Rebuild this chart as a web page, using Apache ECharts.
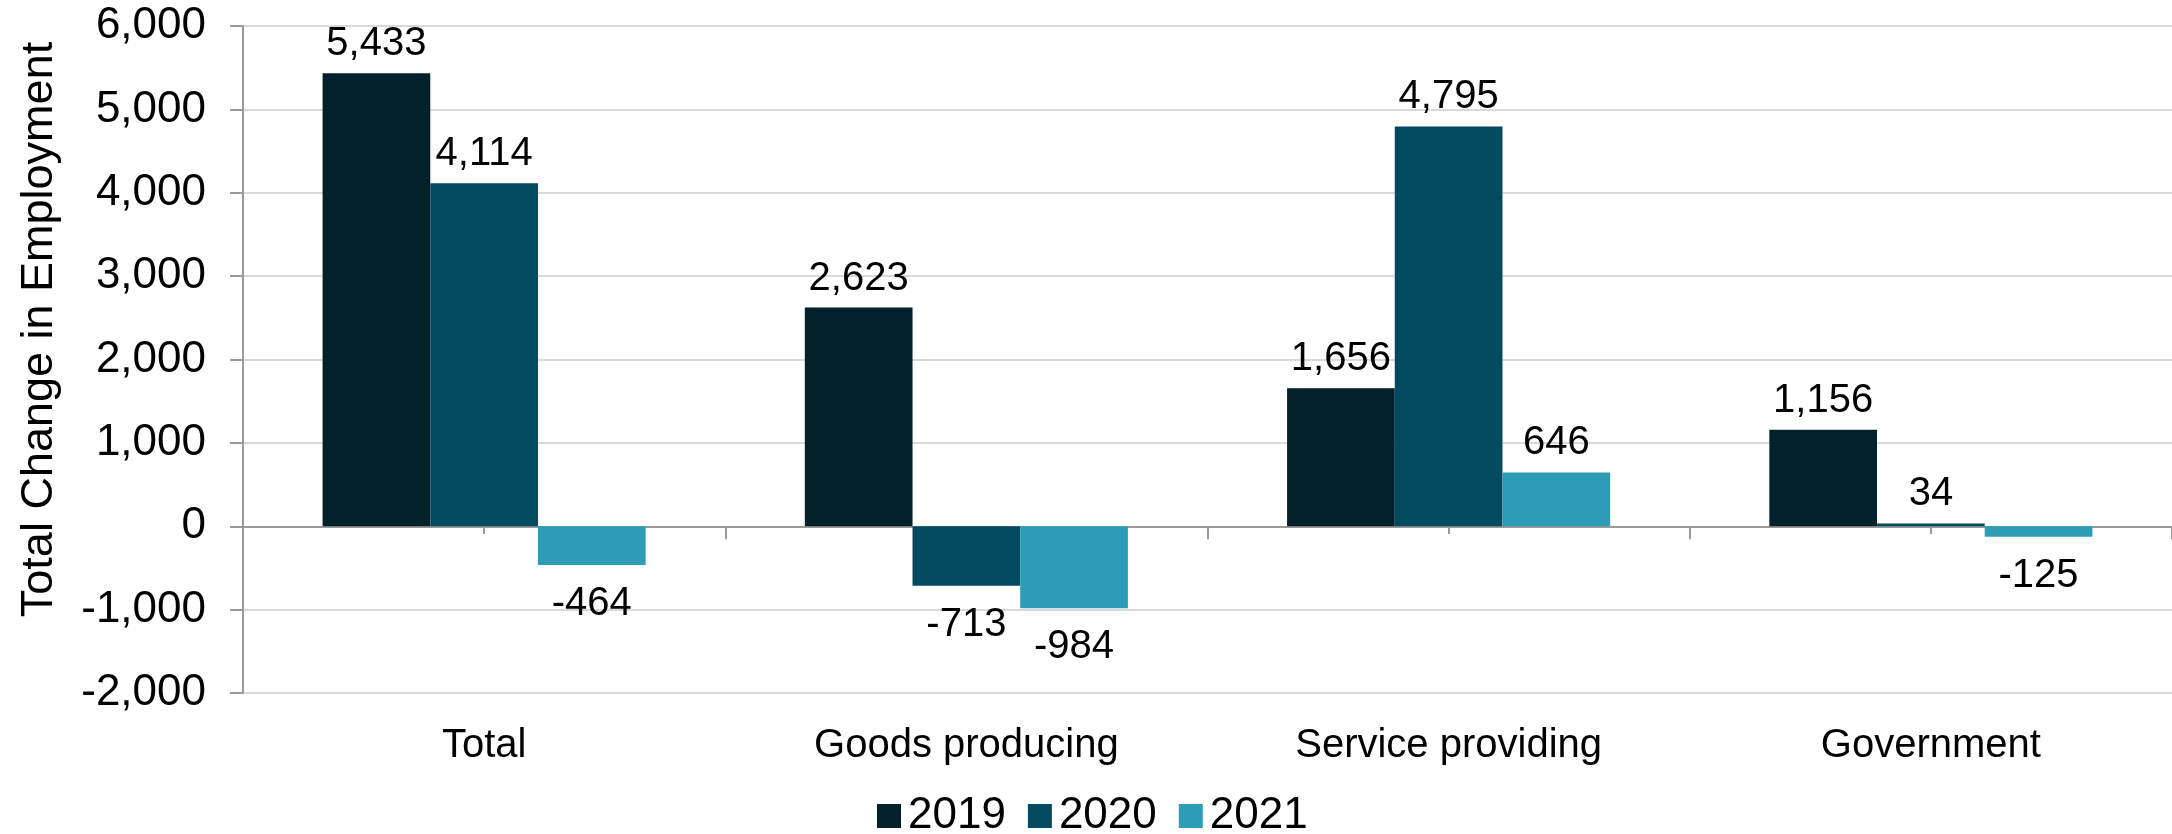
<!DOCTYPE html>
<html>
<head>
<meta charset="utf-8">
<script src="https://cdn.jsdelivr.net/npm/echarts@6/dist/echarts.min.js"></script>
<style>
html,body{margin:0;padding:0;background:#fff;}
#chart{width:2172px;height:834px;}
</style>
</head>
<body>
<div id="chart"></div>
<script>
const categories = ['Total', 'Goods producing', 'Service providing', 'Government'];
const seriesNames = ['2019', '2020', '2021'];
const values2019 = [5433, 2623, 1656, 1156];
const values2020 = [4114, -713, 4795, 34];
const values2021 = [-464, -984, 646, -125];
const yTicks = { min: -2000, max: 6000, interval: 1000 };
const colors = ['#03212B', '#024A5F', '#2C9CB7'];

const FONT = "'Liberation Sans', Arial, sans-serif";
const fmt = v => Number(v).toLocaleString('en-US');

function mkData(arr) {
  return arr.map(v => ({
    value: v,
    label: v < 0 ? { position: 'bottom', distance: 19 } : { position: 'top', distance: 9 }
  }));
}

const allValues = [values2019, values2020, values2021];
const series = seriesNames.map((name, i) => ({
  name: name,
  type: 'bar',
  xAxisIndex: 0,
  yAxisIndex: 0,
  data: mkData(allValues[i]),
  barGap: '0%',
  barCategoryGap: '33%',
  itemStyle: { color: colors[i] },
  label: {
    show: true,
    color: '#000',
    fontFamily: FONT,
    fontSize: 40,
    formatter: p => fmt(p.value)
  }
}));

const chart = echarts.init(document.getElementById('chart'), null, { renderer: 'canvas' });
chart.setOption({
  backgroundColor: '#fff',
  animation: false,
  color: colors,
  grid: { left: 243, right: 0, top: 26, bottom: 141, containLabel: false },
  legend: {
    data: seriesNames,
    left: 872,
    top: 789,
    icon: 'rect',
    itemWidth: 24,
    itemHeight: 24,
    itemGap: 22,
    textStyle: { fontFamily: FONT, fontSize: 44, color: '#000', padding: [0, 0, 0, 2] }
  },
  xAxis: [
    {
      type: 'category',
      data: categories,
      position: 'bottom',
      axisLine: { show: true, onZero: true, lineStyle: { color: '#9a9a9a', width: 2 } },
      axisTick: { show: true, alignWithLabel: false, length: 13, lineStyle: { color: '#9a9a9a', width: 2 } },
      axisLabel: { show: false },
      splitLine: { show: false }
    },
    {
      type: 'category',
      data: categories,
      position: 'bottom',
      axisLine: { show: false, onZero: false },
      axisTick: { show: false },
      axisLabel: { show: true, margin: 33, fontFamily: FONT, fontSize: 40, color: '#000' },
      splitLine: { show: false }
    },
    {
      type: 'category',
      data: categories,
      position: 'bottom',
      offset: -167,
      axisLine: { show: false, onZero: false },
      axisTick: { show: true, alignWithLabel: true, length: 8, lineStyle: { color: '#9a9a9a', width: 2 } },
      axisLabel: { show: false },
      splitLine: { show: false }
    }
  ],
  yAxis: {
    type: 'value',
    min: yTicks.min,
    max: yTicks.max,
    interval: yTicks.interval,
    name: 'Total Change in Employment',
    nameLocation: 'middle',
    nameGap: 181,
    nameRotate: 90,
    nameTextStyle: { fontFamily: FONT, fontSize: 45, color: '#000', padding: [0, 0, 0, 60] },
    axisLine: { show: true, lineStyle: { color: '#9a9a9a', width: 2 } },
    axisTick: { show: true, length: 13, lineStyle: { color: '#9a9a9a', width: 2 } },
    axisLabel: { fontFamily: FONT, fontSize: 44, color: '#000', margin: 37, formatter: v => fmt(v) },
    splitLine: { show: true, lineStyle: { color: '#d9d9d9', width: 2 } }
  },
  series: series
});
</script>
</body>
</html>
